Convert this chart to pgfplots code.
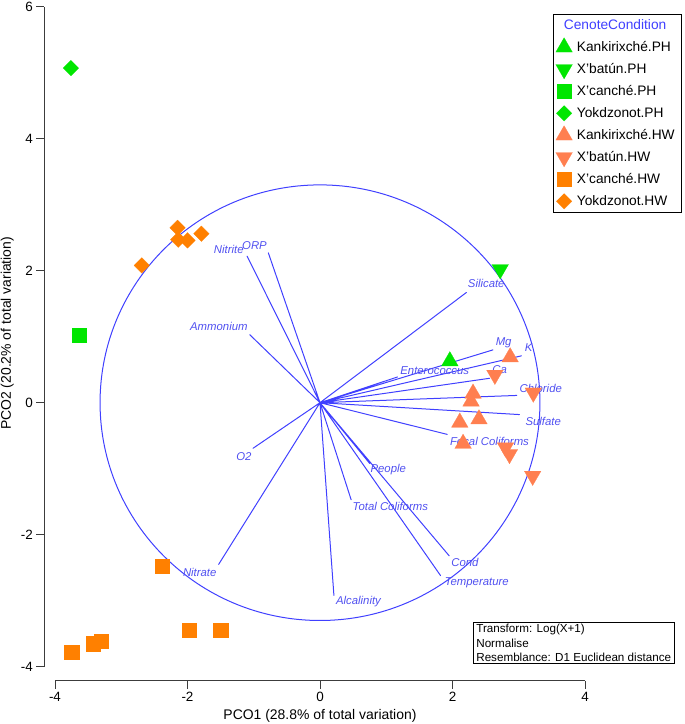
\documentclass[border=0pt]{standalone}
\usepackage{fontspec}
\setmainfont{Liberation Sans}
\usepackage{pgfplots}
\pgfplotsset{compat=1.18}

\definecolor{phgreen}{RGB}{0,230,0}
\definecolor{hworange}{RGB}{255,128,0}
\definecolor{hwcoral}{RGB}{255,127,80}
\definecolor{vecblue}{RGB}{64,64,255}
\definecolor{labblue}{RGB}{80,80,240}
\definecolor{axgray}{RGB}{60,60,60}

\pgfplotsset{
  pcoticks/.style={
    tick align=outside, major tick length=8bp,
    axis line style={-, line width=0.8bp, axgray},
    tick style={line width=0.8bp, axgray},
    ticklabel style={font=\fontsize{13.5}{16}\selectfont},
    /pgf/number format/assume math mode=true,
    label style={font=\fontsize{14}{16}\selectfont},
  },
}
\tikzset{vlab/.style={font=\fontsize{11.4}{13}\selectfont\itshape, text=labblue, inner sep=0pt}}

\begin{document}
\begin{tikzpicture}
\path[use as bounding box] (-55bp,-57.3bp) rectangle (630bp,666.7bp);

% x axis, detached below the plot
\begin{axis}[scale only axis, width=530bp, height=1bp, at={(0bp,-14bp)}, anchor=south west,
  xmin=-4, xmax=4, ymin=0, ymax=1, axis x line=bottom, hide y axis, pcoticks,
  xtick={-4,-2,0,2,4},
  xlabel={PCO1 (28.8\% of total variation)},
  xlabel style={at={(axis description cs:0.5,0)}, anchor=center, yshift=-35bp}]
\end{axis}

% y axis, detached left of the plot
\begin{axis}[scale only axis, width=1bp, height=660bp, at={(-10.7bp,0bp)}, anchor=south west,
  xmin=0, xmax=1, ymin=-4, ymax=6, axis y line=left, hide x axis, pcoticks,
  ytick={-4,-2,0,2,4,6},
  ylabel={PCO2 (20.2\% of total variation)},
  ylabel style={at={(axis description cs:-37,0.505)}, anchor=center, rotate=0}]
\end{axis}

\begin{axis}[scale only axis, width=530bp, height=660bp, at={(0bp,0bp)}, anchor=south west,
  xmin=-4, xmax=4, ymin=-4, ymax=6, hide axis, clip=false,
  legend image code/.code={\draw[#1] plot coordinates {(0bp,0bp)};},
  legend cell align=left,
  legend style={at={(axis description cs:0.9396,0.9889)}, anchor=north west,
    draw=black, line width=0.6bp, inner xsep=2.5bp, inner ysep=0pt, row sep=0pt,
    font=\fontsize{13.8}{16}\selectfont,
    nodes={inner xsep=4.5bp, inner ysep=3.0bp, text height=12bp, text depth=4bp}},
  ]
\addlegendimage{empty legend}
\addlegendentry{\hspace*{-13bp}\textcolor{vecblue}{CenoteCondition}}

\addplot[only marks, color=phgreen, mark=triangle*, mark size=9.6bp, mark options={line width=0.2bp}]
  coordinates {(1.96,0.63)};
\addlegendentry{Kankirixché.PH}
\addplot[only marks, color=phgreen, mark=triangle*, mark size=9.6bp, mark options={rotate=180, line width=0.2bp}]
  coordinates {(2.72,2.02)};
\addlegendentry{X'batún.PH}
\addplot[only marks, color=phgreen, mark=square*, mark size=7.1bp, mark options={line width=0.2bp}]
  coordinates {(-3.64,1.02)};
\addlegendentry{X'canché.PH}
\addplot[only marks, color=phgreen, mark=square*, mark size=5.5bp, mark options={rotate=45, line width=0.2bp}]
  coordinates {(-3.76,5.07)};
\addlegendentry{Yokdzonot.PH}

\addplot[only marks, color=hwcoral, mark=triangle*, mark size=9.6bp, mark options={line width=0.2bp}]
  coordinates {(2.87,0.69) (2.31,0.14) (2.28,0.02) (2.11,-0.30) (2.40,-0.25) (2.16,-0.62)};
\addlegendentry{Kankirixché.HW}
\addplot[only marks, color=hwcoral, mark=triangle*, mark size=9.6bp, mark options={rotate=180, line width=0.2bp}]
  coordinates {(2.64,0.42) (3.22,0.15) (2.80,-0.68) (2.86,-0.78) (3.21,-1.11)};
\addlegendentry{X'batún.HW}
\addplot[only marks, color=hworange, mark=square*, mark size=7.1bp, mark options={line width=0.2bp}]
  coordinates {(-3.75,-3.78) (-3.43,-3.65) (-3.30,-3.61) (-2.38,-2.47) (-1.98,-3.45) (-1.50,-3.44)};
\addlegendentry{X'canché.HW}
\addplot[only marks, color=hworange, mark=square*, mark size=5.5bp, mark options={rotate=45, line width=0.2bp}]
  coordinates {(-2.69,2.08) (-2.15,2.65) (-2.14,2.47) (-2.00,2.46) (-1.79,2.56)};
\addlegendentry{Yokdzonot.HW}

% correlation circle and vectors
\draw[vecblue, line width=1bp] (axis cs:0,0) ellipse [x radius=3.32, y radius=3.30];
\addplot[forget plot, vecblue, line width=1bp, line join=round] coordinates {
  (0,0) (-1.10,2.22) (0,0) (-0.78,2.27) (0,0) (-1.06,1.03) (0,0) (2.21,1.67)
  (0,0) (2.61,0.80) (0,0) (3.04,0.71) (0,0) (1.17,0.39) (0,0) (2.56,0.37)
  (0,0) (2.97,0.11) (0,0) (3.01,-0.18) (0,0) (1.92,-0.48) (0,0) (0.75,-0.92)
  (0,0) (0.47,-1.47) (0,0) (1.95,-2.32) (0,0) (1.82,-2.62) (0,0) (0.21,-2.92)
  (0,0) (-1.01,-0.69) (0,0) (-1.53,-2.45) (0,0)};

\node[vlab, anchor=west] at (axis cs:2.23,1.80) {Silicate};
\node[vlab, anchor=west] at (axis cs:2.65,0.91) {Mg};
\node[vlab, anchor=west] at (axis cs:3.09,0.83) {K};
\node[vlab, anchor=west] at (axis cs:1.21,0.48) {Enterococcus};
\node[vlab, anchor=west] at (axis cs:2.60,0.50) {Ca};
\node[vlab, anchor=west] at (axis cs:3.01,0.22) {Chloride};
\node[vlab, anchor=west] at (axis cs:3.10,-0.28) {Sulfate};
\node[vlab, anchor=west] at (axis cs:1.96,-0.58) {Fecal Coliforms};
\node[vlab, anchor=west] at (axis cs:0.76,-1.01) {People};
\node[vlab, anchor=west] at (axis cs:0.49,-1.57) {Total Coliforms};
\node[vlab, anchor=west] at (axis cs:1.98,-2.42) {Cond};
\node[vlab, anchor=west] at (axis cs:1.88,-2.73) {Temperature};
\node[vlab, anchor=west] at (axis cs:0.24,-3.02) {Alcalinity};
\node[vlab, anchor=east] at (axis cs:-1.15,2.32) {Nitrite};
\node[vlab, anchor=east] at (axis cs:-0.80,2.38) {ORP};
\node[vlab, anchor=east] at (axis cs:-1.09,1.15) {Ammonium};
\node[vlab, anchor=east] at (axis cs:-1.03,-0.81) {O2};
\node[vlab, anchor=east] at (axis cs:-1.56,-2.57) {Nitrate};

\node[draw=black, line width=0.6bp, anchor=north west, align=left, inner xsep=3bp, inner ysep=2bp,
  font=\fontsize{11.7}{14.5}\selectfont] at (axis cs:2.31,-3.32)
  {Transform: Log(X+1)\\Normalise\\Resemblance: D1 Euclidean distance};
\end{axis}
\end{tikzpicture}
\end{document}
